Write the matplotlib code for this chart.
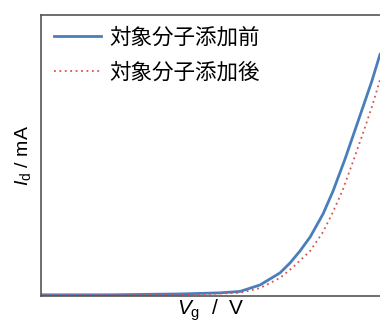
import matplotlib
matplotlib.use("Agg")
import matplotlib.pyplot as plt

plt.rcParams['font.family'] = ['Liberation Sans', 'Noto Sans CJK JP']
plt.rcParams['mathtext.fontset'] = 'custom'
plt.rcParams['mathtext.rm'] = 'Liberation Sans'
plt.rcParams['mathtext.it'] = 'Liberation Sans:italic'

# Data (arbitrary units: V_g 0-10, I_d 0-10)
vg_before = [0.0, 2.0, 4.1, 5.28, 5.87, 6.46, 7.05, 7.35, 7.64, 7.94, 8.32, 8.61, 8.97, 9.41, 9.76, 10.0]
id_before = [0.04, 0.04, 0.07, 0.11, 0.16, 0.39, 0.82, 1.18, 1.60, 2.10, 2.92, 3.72, 4.88, 6.42, 7.65, 8.60]
vg_after = [0.0, 2.0, 4.1, 5.87, 6.46, 7.05, 7.43, 7.94, 8.32, 8.61, 8.91, 9.20, 9.50, 9.76, 10.0]
id_after = [0.03, 0.03, 0.04, 0.11, 0.28, 0.64, 1.02, 1.60, 2.28, 2.98, 3.80, 4.77, 5.80, 6.73, 7.69]
labels = ['対象分子添加前', '対象分子添加後']
xlabel = r'$V_\mathrm{g}$  /  V'
ylabel = r'$I_\mathrm{d}$ / mA'

fig = plt.figure(figsize=(3.8, 3.27), dpi=100)
ax = fig.add_axes([0.108, 0.095, 0.892, 0.859])

ax.plot(vg_before, id_before, color='#4a7ebb', lw=2.0, label=labels[0], solid_joinstyle='round')
ax.plot(vg_after, id_after, color='#d9534f', lw=1.3, ls=(0, (1, 2)), label=labels[1])

ax.set_xlim(0, 10)
ax.set_ylim(0, 10)
ax.set_xticks([])
ax.set_yticks([])
for s in ['left', 'bottom', 'top']:
    ax.spines[s].set_color('#555555')
    ax.spines[s].set_linewidth(1.2)
ax.spines['right'].set_visible(False)

ax.set_xlabel(xlabel, fontsize=15, labelpad=1)
ax.set_ylabel(ylabel, fontsize=14, labelpad=6)

leg = ax.legend(loc='upper left', frameon=False, fontsize=15.5, handlelength=2.2,
                handletextpad=0.35, borderaxespad=0.2, labelspacing=0.65)

fig.savefig('out.png', dpi=100)
